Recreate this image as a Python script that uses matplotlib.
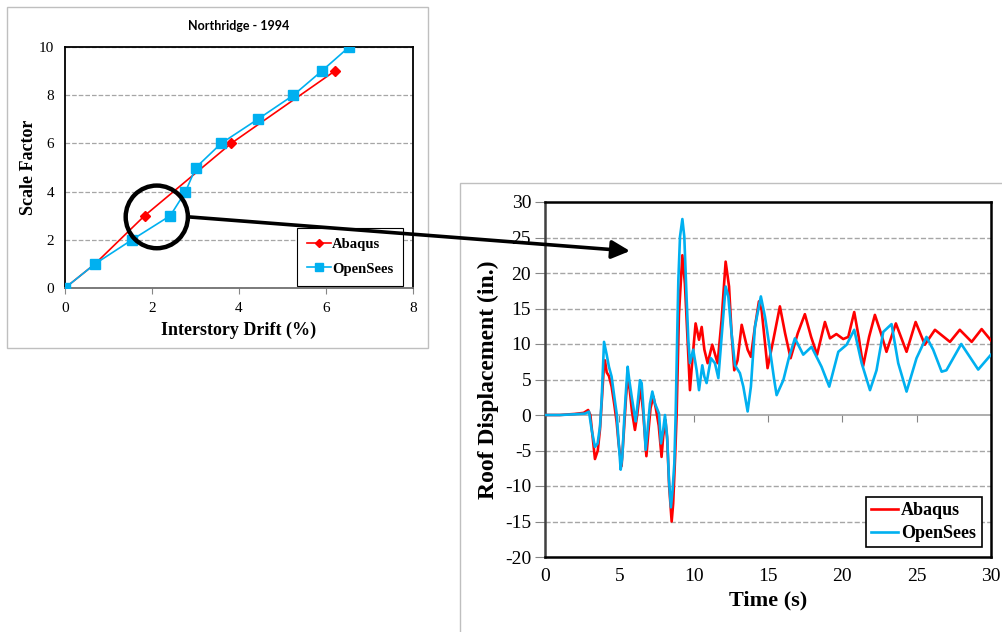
import numpy as np
from matplotlib import pyplot as plt
from matplotlib.patches import Rectangle, Ellipse, FancyArrowPatch

plt.rcParams['axes.unicode_minus'] = False

# left chart: scale factor vs interstory drift
abq_drift = [0, 0.69, 1.83, 3.82, 6.2]
abq_sf = [0, 1, 3, 6, 9]
ops_drift = [0, 0.69, 1.54, 2.42, 2.77, 3.01, 3.59, 4.43, 5.25, 5.90, 6.53]
ops_sf = [0, 1, 2, 3, 4, 5, 6, 7, 8, 9, 10]

# right chart: roof displacement history (time s, displacement in.)
abq_t = [0, 1.0, 2.0, 2.6, 2.9, 3.05, 3.2, 3.36, 3.55, 3.7, 3.85, 3.95, 4.03, 4.15, 4.3,
         4.48, 4.66, 4.82, 4.95, 5.15, 5.3, 5.45, 5.56, 5.7, 5.85, 6.05, 6.2, 6.43, 6.6,
         6.82, 6.95, 7.1, 7.29, 7.45, 7.65, 7.84, 7.95, 8.1, 8.22, 8.35, 8.52, 8.62, 8.75,
         8.85, 9.01, 9.24, 9.41, 9.59, 9.75, 9.91, 10.13, 10.36, 10.54, 10.72, 10.94,
         11.25, 11.61, 11.88, 12.15, 12.38, 12.55, 12.73, 12.95, 13.23, 13.63, 13.85,
         14.12, 14.39, 14.57, 14.8, 14.97, 15.36, 15.8, 16.15, 16.52, 17.0, 17.48, 17.9,
         18.3, 18.83, 19.17, 19.6, 20.06, 20.4, 20.8, 21.1, 21.4, 21.8, 22.19, 22.6,
         22.97, 23.6, 24.32, 24.93, 25.55, 26.23, 27.24, 27.9, 28.7, 29.37, 30.0]
abq_d = [0, 0.0, 0.15, 0.3, 0.7, 0.0, -3.0, -6.2, -5.0, -2.0, 3.0, 6.5, 7.7, 6.0, 5.5,
         4.0, 1.5, -1.0, -4.0, -7.2, -2.5, 2.5, 5.4, 3.5, 0.5, -2.1, 0.0, 4.0, 0.5,
         -5.8, -2.5, 1.0, 2.6, 1.0, -1.5, -5.9, -3.0, -0.7, -3.5, -10.0, -15.0, -12.5, -6.0,
         -0.2, 14.2, 22.5, 18.5, 10.6, 3.5, 7.7, 12.9, 10.6, 12.4, 9.2, 7.3,
         9.9, 7.3, 13.4, 21.6, 18.1, 11.5, 6.3, 7.7, 12.7, 9.2, 8.2,
         12.4, 16.0, 14.8, 10.1, 6.6, 10.6, 15.3, 11.5, 8.0, 11.5, 14.2, 11.0,
         8.5, 13.1, 10.8, 11.4, 10.7, 11.0, 14.5, 11.0, 6.9, 11.0, 14.1, 11.5,
         8.9, 12.9, 8.9, 13.1, 9.9, 12.0, 10.3, 12.0, 10.3, 12.1, 10.5]

ops_t = [0, 1.0, 2.0, 2.69, 2.96, 3.14, 3.36, 3.54, 3.7, 3.81, 3.92, 3.97, 4.15, 4.3,
         4.48, 4.66, 4.82, 4.93, 5.09, 5.2, 5.34, 5.45, 5.56, 5.67, 5.83, 6.01, 6.1, 6.23,
         6.39, 6.5, 6.61, 6.77, 6.9, 7.06, 7.22, 7.4, 7.67, 7.8, 7.95, 8.07, 8.22, 8.34,
         8.47, 8.58, 8.7, 8.79, 8.9, 8.97, 9.08, 9.24, 9.37, 9.53, 9.64, 9.75, 9.97,
         10.2, 10.36, 10.58, 10.72, 10.87, 11.16, 11.43, 11.66, 11.88, 12.15, 12.33,
         12.55, 12.78, 13.11, 13.34, 13.63, 13.85, 14.12, 14.52, 14.8, 15.13, 15.42,
         15.58, 16.03, 16.4, 16.81, 17.37, 17.93, 18.6, 19.12, 19.73, 20.29, 20.8, 21.3,
         21.86, 22.3, 22.75, 23.31, 23.76, 24.32, 24.99, 25.66, 26.11, 26.68, 27.0,
         28.0, 29.14, 30.0]
ops_d = [0, 0.0, 0.1, 0.2, 0.47, -2.1, -4.5, -4.0, -1.6, 2.1, 7.7, 10.3, 8.5, 6.8,
         5.4, 2.6, 0.2, -3.1, -7.7, -5.9, -0.2, 3.5, 6.8, 4.9, 2.6, 0.2, -0.9, 1.6,
         4.9, 4.5, 1.2, -4.9, -2.1, 1.6, 3.3, 1.6, 0.2, -4.0, -2.1, 0.0, -3.1, -9.2,
         -13.0, -10.6, -6.8, 0.2, 12.0, 19.0, 25.1, 27.6, 25.1, 16.2, 10.6, 7.3, 9.2,
         6.3, 3.5, 7.0, 5.4, 4.5, 8.0, 7.3, 5.2, 11.0, 18.1, 16.7,
         11.5, 7.0, 5.9, 4.0, 0.5, 4.0, 12.4, 16.7, 13.8, 9.2, 4.9,
         2.8, 4.9, 8.0, 10.8, 8.5, 9.6, 6.8, 4.0, 8.9, 9.9, 12.0, 7.3,
         3.5, 6.3, 11.7, 12.8, 7.3, 3.3, 8.0, 11.0, 9.2, 6.1, 6.3,
         10.0, 6.4, 8.5]

RED = '#FF0000'
BLUE = '#00B0F0'
GRID = '#A6A6A6'
AXGRAY = '#868686'
SERIF = 'Liberation Serif'

fig = plt.figure(figsize=(10.03, 6.32), dpi=100)
W, H = 1003, 632

def fx(x):
    return x / W

def fy(y):
    return 1 - y / H

def px_rect(x0, y0, x1, y1):
    return Rectangle((fx(x0), fy(y1)), (x1 - x0) / W, (y1 - y0) / H,
                     transform=fig.transFigure, fill=False, edgecolor='#BFBFBF', lw=1.0)

fig.patches.append(px_rect(7, 7, 428, 348))
fig.patches.append(px_rect(460, 183, 1010, 640))

# ---- left chart
ax1 = fig.add_axes([fx(65), fy(288), 348 / W, 241 / H])
ax1.plot(abq_drift, abq_sf, color=RED, lw=1.2, marker='D', ms=5, label='Abaqus', zorder=3)
ax1.plot(ops_drift, ops_sf, color=BLUE, lw=1.2, marker='s', ms=7, label='OpenSees', zorder=4)
ax1.set_xlim(0, 8)
ax1.set_ylim(0, 10)
ax1.set_xticks([0, 2, 4, 6, 8])
ax1.set_yticks([0, 2, 4, 6, 8, 10])
ax1.yaxis.grid(True, ls='--', color=GRID, lw=0.9)
ax1.set_axisbelow(True)
for s in ['top', 'right', 'left']:
    ax1.spines[s].set_color('black')
    ax1.spines[s].set_linewidth(1.3)
ax1.spines['bottom'].set_color('#707070')
ax1.spines['bottom'].set_linewidth(1.3)
ax1.tick_params(axis='x', length=4, color=AXGRAY, pad=6, labelsize=11)
ax1.tick_params(axis='y', length=0, pad=8, labelsize=11)
for lab in ax1.get_xticklabels() + ax1.get_yticklabels():
    lab.set_fontfamily(SERIF)
ax1.set_xlabel('Interstory Drift (%)', fontfamily=SERIF, fontweight='bold', fontsize=13, labelpad=5)
ax1.set_ylabel('Scale Factor', fontfamily=SERIF, fontweight='bold', fontsize=13, labelpad=1)
ax1.set_title('Northridge - 1994', fontfamily='Lato', fontweight='bold', fontsize=9, pad=12)
leg1 = ax1.legend(loc='upper left', bbox_to_anchor=(fx(297), fy(228)), bbox_transform=fig.transFigure,
                  frameon=True, fancybox=False, edgecolor='black', framealpha=1, borderaxespad=0,
                  prop={'family': SERIF, 'weight': 'bold', 'size': 10.5}, handlelength=1.6,
                  handletextpad=0.1, labelspacing=0.75, borderpad=0.7, markerscale=0.9)
leg1.get_frame().set_linewidth(0.8)

# circle highlighting the region
circ = Ellipse((2.11, 2.95), 1.43, 2.6, transform=ax1.transData, fill=False,
               edgecolor='black', lw=3.2, clip_on=False, zorder=6)
ax1.add_patch(circ)

# ---- right chart
ax2 = fig.add_axes([fx(545), fy(557), 446 / W, 355 / H])
ax2.plot(abq_t, abq_d, color=RED, lw=1.9, label='Abaqus', zorder=3)
ax2.plot(ops_t, ops_d, color=BLUE, lw=1.9, label='OpenSees', zorder=4)
ax2.set_xlim(0, 30)
ax2.set_ylim(-20, 30)
ax2.set_xticks(np.arange(0, 31, 5))
ax2.set_yticks(np.arange(-20, 31, 5))
for v in [-15, -10, -5, 5, 10, 15, 20, 25]:
    ax2.axhline(v, ls='--', color=GRID, lw=1.0, zorder=1)
ax2.axhline(0, color='#A0A0A0', lw=1.2, zorder=1)
for s in ['top', 'right', 'bottom']:
    ax2.spines[s].set_color('black')
    ax2.spines[s].set_linewidth(1.8)
ax2.spines['left'].set_color('#404040')
ax2.spines['left'].set_linewidth(1.8)
ax2.tick_params(axis='x', length=0, pad=8, labelsize=14)
ax2.tick_params(axis='y', length=7, color=AXGRAY, pad=3, labelsize=14)
for lab in ax2.get_xticklabels() + ax2.get_yticklabels():
    lab.set_fontfamily(SERIF)
sec = ax2.secondary_xaxis(0, transform=ax2.transData)
sec.set_xticks(np.arange(5, 31, 5))
sec.tick_params(length=5, color=AXGRAY, labelbottom=False)
sec.spines['bottom'].set_visible(False)
ax2.set_xlabel('Time (s)', fontfamily=SERIF, fontweight='bold', fontsize=16, labelpad=4)
ax2.set_ylabel('Roof Displacement (in.)', fontfamily=SERIF, fontweight='bold', fontsize=17, labelpad=4)
leg2 = ax2.legend(loc='upper left', bbox_to_anchor=(fx(866), fy(497)), bbox_transform=fig.transFigure,
                  frameon=True, fancybox=False, edgecolor='black', framealpha=1, borderaxespad=0,
                  prop={'family': SERIF, 'weight': 'bold', 'size': 13}, handlelength=1.5,
                  handletextpad=0.15, labelspacing=0.3, borderpad=0.3)
leg2.get_frame().set_linewidth(1.2)

# arrow from the circle to the history plot, drawn above both axes
arrow = FancyArrowPatch((fx(190), fy(217)), (fx(630), fy(251)), transform=fig.transFigure,
                        arrowstyle='-|>,head_length=11,head_width=5.5', mutation_scale=1,
                        color='black', lw=2.6, shrinkA=0, shrinkB=0, zorder=10)
fig.add_artist(arrow)

fig.savefig('out.png', dpi=100)
